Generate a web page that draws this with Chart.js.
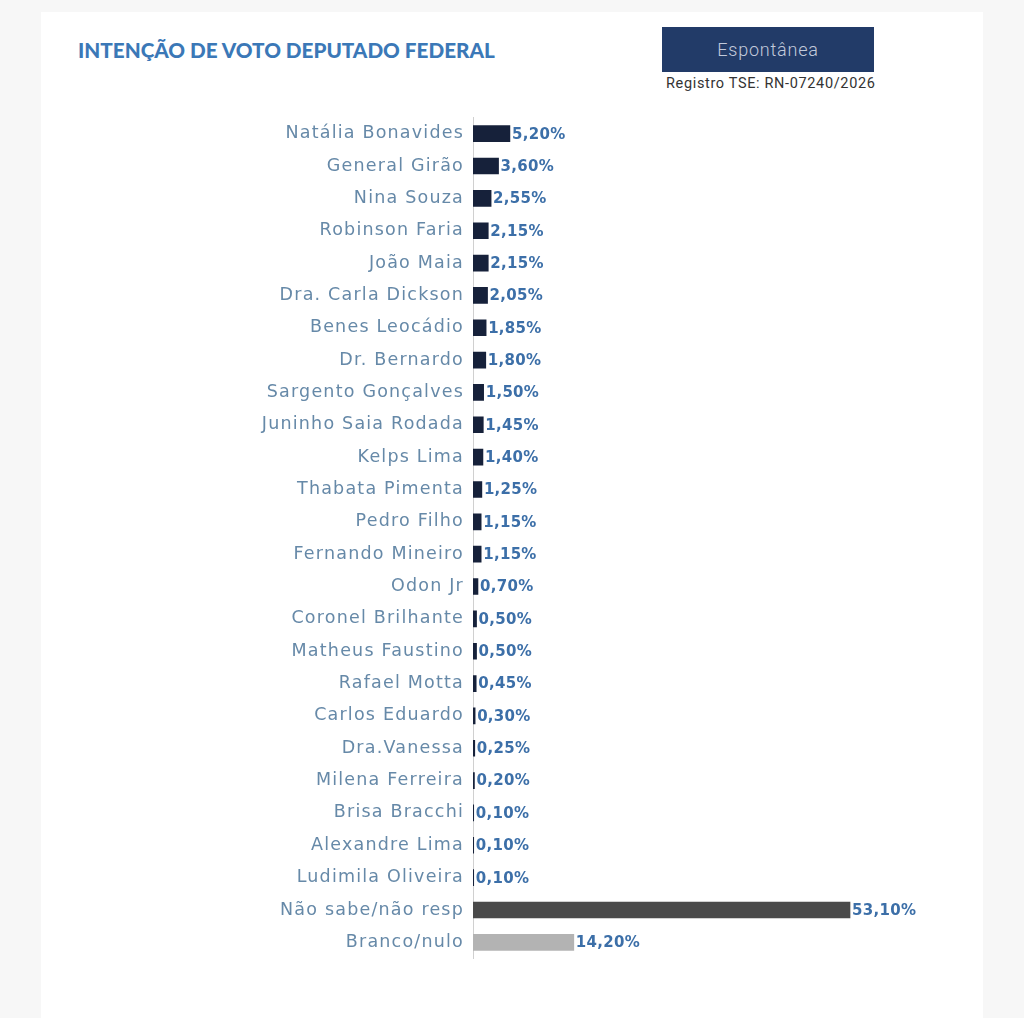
<!DOCTYPE html>
<html>
<head>
<meta charset="utf-8">
<script src="https://cdn.jsdelivr.net/npm/chart.js@4"></script>
<style>
  body { margin: 0; background: #f7f7f7; width: 1024px; height: 1018px; overflow: hidden; }
  #card { position: absolute; left: 41px; top: 12px; width: 942px; height: 1006px; background: #fff; overflow: hidden; }
  #title { position: absolute; left: 37px; top: 25px; font: 900 21px Lato, sans-serif; color: #3b78b7;
           transform: scaleX(0.985); transform-origin: left center; white-space: nowrap; }
  #box { position: absolute; left: 621px; top: 15px; width: 212px; height: 45px; background: #223b68;
         color: #c2cadb; font: 300 18px Roboto, sans-serif; letter-spacing: 0.8px; text-align: center; line-height: 45px; }
  #reg { position: absolute; left: 625px; top: 63px; font: 14.5px Roboto, sans-serif; letter-spacing: 0.65px; color: #333; white-space: nowrap; }
  #wrap { position: absolute; left: 0; top: 86px; width: 942px; height: 880px; }
</style>
</head>
<body>
<div id="card">
  <div id="title">INTENÇÃO DE VOTO DEPUTADO FEDERAL</div>
  <div id="box">Espontânea</div>
  <div id="reg">Registro TSE: RN-07240/2026</div>
  <div id="wrap"><canvas id="myChart"></canvas></div>
</div>
<script>
var names = [
  "Natália Bonavides", "General Girão", "Nina Souza", "Robinson Faria", "João Maia",
  "Dra. Carla Dickson", "Benes Leocádio", "Dr. Bernardo", "Sargento Gonçalves",
  "Juninho Saia Rodada", "Kelps Lima", "Thabata Pimenta", "Pedro Filho",
  "Fernando Mineiro", "Odon Jr", "Coronel Brilhante", "Matheus Faustino",
  "Rafael Motta", "Carlos Eduardo", "Dra.Vanessa", "Milena Ferreira",
  "Brisa Bracchi", "Alexandre Lima", "Ludimila Oliveira", "Não sabe/não resp", "Branco/nulo"
];
var percents = [
  5.20, 3.60, 2.55, 2.15, 2.15, 2.05, 1.85, 1.80, 1.50, 1.45, 1.40, 1.25, 1.15,
  1.15, 0.70, 0.50, 0.50, 0.45, 0.30, 0.25, 0.20, 0.10, 0.10, 0.10, 53.10, 14.20
];

var barColors = [];
for (var i = 0; i < names.length; i++) {
  if (names[i] === "Não sabe/não resp") barColors.push('#4a4a4a');
  else if (names[i] === "Branco/nulo") barColors.push('#b3b3b3');
  else barColors.push('#16213a');
}

// wider letter spacing for the category names
var spacing = {
  id: 'spacing',
  beforeDraw: function(chart) { chart.ctx.letterSpacing = '1.2px'; }
};

// draws the value next to each bar
var valueLabels = {
  id: 'valueLabels',
  afterDatasetsDraw: function(chart) {
    var ctx = chart.ctx;
    var meta = chart.getDatasetMeta(0);
    ctx.save();
    ctx.letterSpacing = '0.3px';
    ctx.font = 'bold 15px "DejaVu Sans", sans-serif';
    ctx.fillStyle = '#3c6fa8';
    ctx.textBaseline = 'middle';
    meta.data.forEach(function(bar, i) {
      var txt = percents[i].toFixed(2).replace('.', ',') + '%';
      ctx.fillText(txt, bar.x + 2, bar.y + 1);
    });
    ctx.restore();
  }
};

var ctx = document.getElementById('myChart').getContext('2d');
var myChart = new Chart(ctx, {
  type: 'bar',
  data: {
    labels: names,
    datasets: [{
      data: percents,
      backgroundColor: barColors,
      barThickness: 16
    }]
  },
  options: {
    indexAxis: 'y',
    responsive: true,
    maintainAspectRatio: false,
    animation: false,
    layout: { padding: { top: 0, right: 84, bottom: 0, left: 0 } },
    plugins: { legend: { display: false }, tooltip: { enabled: false } },
    scales: {
      x: { display: false, min: 0, max: 60 },
      y: {
        afterFit: function(s) { s.width = 432; },
        grid: { display: false, drawTicks: false },
        border: { display: true, color: '#d0d0d0', width: 1 },
        ticks: {
          padding: 9,
          color: '#6689a8',
          font: { family: '"DejaVu Sans", sans-serif', size: 17.5 }
        }
      }
    }
  },
  plugins: [spacing, valueLabels]
});
</script>
</body>
</html>
